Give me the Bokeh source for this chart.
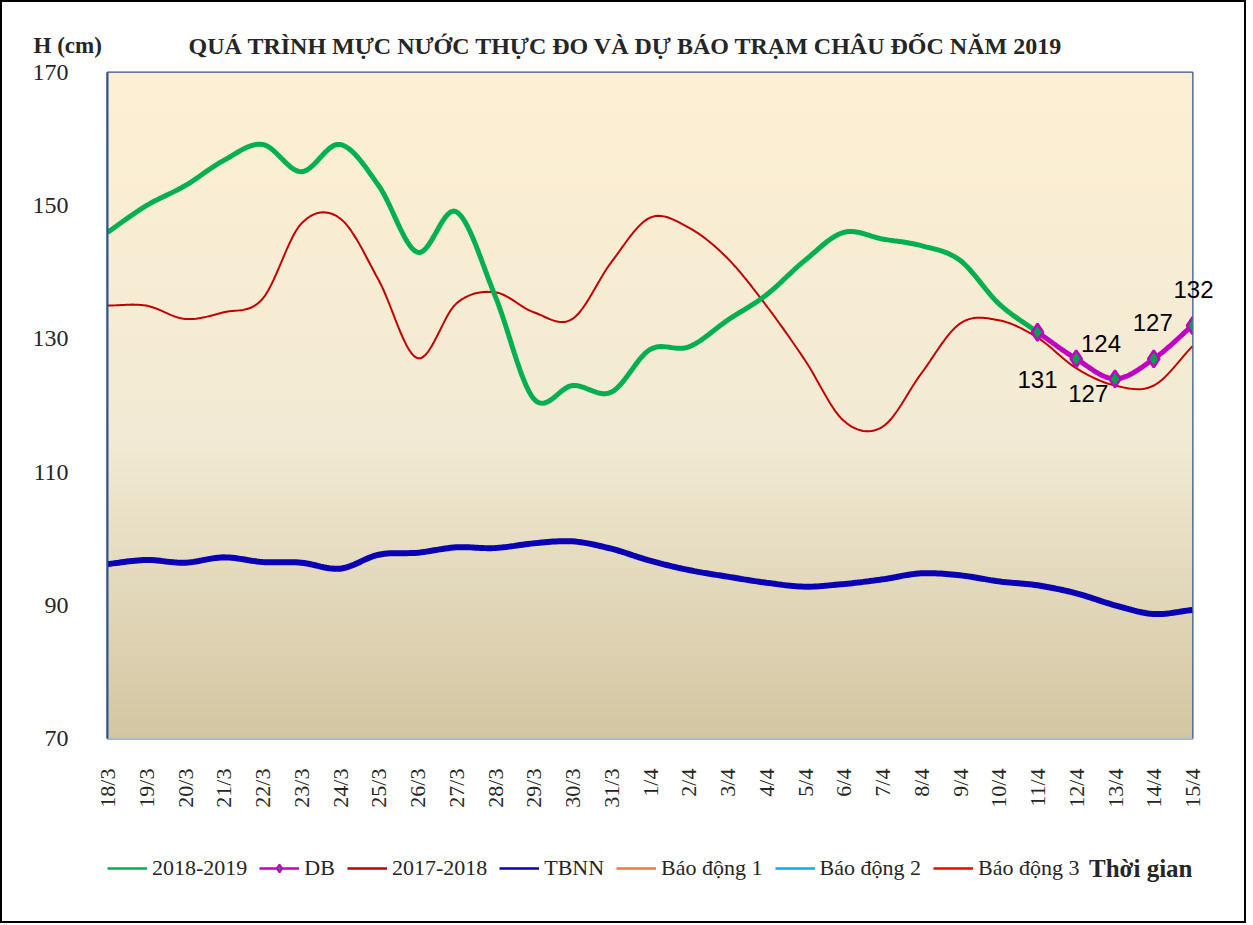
import numpy as np
from bokeh.plotting import figure
from bokeh.layouts import column
from bokeh.models import Range1d, FixedTicker, Label, Legend, LegendItem, ColumnDataSource
from bokeh.core.properties import value
from bokeh.embed import file_html
from bokeh.resources import INLINE

# ---------------- data ----------------
dates = ["18/3", "19/3", "20/3", "21/3", "22/3", "23/3", "24/3", "25/3", "26/3", "27/3",
         "28/3", "29/3", "30/3", "31/3", "1/4", "2/4", "3/4", "4/4", "5/4", "6/4",
         "7/4", "8/4", "9/4", "10/4", "11/4", "12/4", "13/4", "14/4", "15/4"]

obs_2018_2019 = [146.0, 150.0, 153.0, 156.8, 159.2, 155.1, 159.2, 153.0, 143.0, 149.1,
                 136.5, 121.0, 123.0, 122.0, 128.4, 128.8, 132.8, 136.6, 141.8, 146.0,
                 145.0, 144.0, 141.8, 135.3, 131.0]

forecast_db = [131, 127, 124, 127, 132]          # 11/4 .. 15/4
forecast_labels = ["131", "127", "124", "127", "132"]

obs_2017_2018 = [135.0, 135.0, 133.0, 134.0, 136.0, 147.3, 148.1, 138.8, 127.1, 135.3,
                 137.0, 134.0, 133.0, 141.5, 148.2, 146.7, 142.1, 135.0, 126.8, 117.7,
                 116.8, 124.8, 132.3, 132.8, 130.2, 125.6, 123.0, 123.0, 128.9]

tbnn = [96.2, 96.8, 96.4, 97.2, 96.5, 96.4, 95.5, 97.6, 97.9, 98.7,
        98.6, 99.3, 99.6, 98.5, 96.7, 95.3, 94.3, 93.4, 92.8, 93.2,
        93.9, 94.8, 94.5, 93.6, 93.0, 91.8, 90.0, 88.7, 89.3]

bao_dong_1 = 350   # alarm levels (above the visible range)
bao_dong_2 = 400
bao_dong_3 = 450

y_ticks = [70, 90, 110, 130, 150, 170]

# series styles: (legend label, colour, width)
S_1819 = ("2018-2019", "#00B050", 5)
S_DB = ("DB", "#C000C0", 5)
S_1718 = ("2017-2018", "#C00000", 2)
S_TBNN = ("TBNN", "#0A00B4", 6)
S_BD1 = ("Báo động 1", "#ED7D31", 2)
S_BD2 = ("Báo động 2", "#00B0F0", 2)
S_BD3 = ("Báo động 3", "#FF0000", 2)
DIAMOND = dict(marker="diamond", size=17, fill_color="#00A050", line_color="#C000C0", line_width=2.5)

# ---------------- helpers ----------------
def smooth(xs, ys, n=14):
    """Catmull-Rom rendering of a line through the given points (Excel-style smoothed line)."""
    xs = np.asarray(xs, float)
    ys = np.asarray(ys, float)
    if len(xs) < 3:
        return xs, ys
    P = np.column_stack([xs, ys])
    P = np.vstack([P[0] - (P[1] - P[0]), P, P[-1] + (P[-1] - P[-2])])
    out = []
    t = np.linspace(0, 1, n, endpoint=False)[:, None]
    for i in range(1, len(P) - 2):
        p0, p1, p2, p3 = P[i - 1], P[i], P[i + 1], P[i + 2]
        seg = 0.5 * ((2 * p1) + (-p0 + p2) * t + (2 * p0 - 5 * p1 + 4 * p2 - p3) * t ** 2
                     + (-p0 + 3 * p1 - 3 * p2 + p3) * t ** 3)
        out.append(seg)
    out.append(P[-2][None, :])
    arr = np.vstack(out)
    return arr[:, 0], arr[:, 1]

n = len(dates)
x_all = list(range(n))
x_obs = list(range(len(obs_2018_2019)))
x_db = list(range(n - len(forecast_db), n))

TEXT = "#262626"
W = 1242
FRAME_W = 1085

# ---------------- main chart ----------------
p = figure(frame_width=FRAME_W, frame_height=666,
           x_range=Range1d(0, n - 1), y_range=Range1d(70, 170),
           output_backend="svg", toolbar_location=None,
           min_border_left=105, min_border_right=52, min_border_top=70, min_border_bottom=75,
           border_fill_color="white")
p.xgrid.visible = False
p.ygrid.visible = False
p.outline_line_color = "#2F528F"
p.outline_line_width = 2

# background gradient of the plot area
rows = 256
tpos = np.linspace(0, 1, rows)  # 0 bottom -> 1 top
stops = [(0.0, (211, 198, 162)), (0.45, (242, 234, 212)), (1.0, (253, 239, 211))]
def interp(tv):
    for (a, ca), (b, cb) in zip(stops[:-1], stops[1:]):
        if a <= tv <= b:
            f = (tv - a) / (b - a)
            return [int(round(ca[k] + (cb[k] - ca[k]) * f)) for k in range(3)]
    return list(stops[-1][1])
img = np.zeros((rows, 1), dtype=np.uint32)
view = img.view(dtype=np.uint8).reshape((rows, 1, 4))
for i, tv in enumerate(tpos):
    r, g, b = interp(tv)
    view[i, 0, :] = [r, g, b, 255]
p.image_rgba(image=[img], x=0, y=70, dw=n - 1, dh=100, level="image")

sx, sy = smooth(x_all, tbnn)
p.line(sx, sy, line_color=S_TBNN[1], line_width=S_TBNN[2])
sx, sy = smooth(x_all, obs_2017_2018)
p.line(sx, sy, line_color=S_1718[1], line_width=S_1718[2])
sx, sy = smooth(x_obs, obs_2018_2019)
p.line(sx, sy, line_color=S_1819[1], line_width=S_1819[2])
sx, sy = smooth(x_db, forecast_db)
p.line(sx, sy, line_color=S_DB[1], line_width=S_DB[2])
p.scatter(x_db, forecast_db, **DIAMOND)
p.line(x_all, [bao_dong_1] * n, line_color=S_BD1[1], line_width=S_BD1[2])
p.line(x_all, [bao_dong_2] * n, line_color=S_BD2[1], line_width=S_BD2[2])
p.line(x_all, [bao_dong_3] * n, line_color=S_BD3[1], line_width=S_BD3[2])

# data labels of the forecast (screen offsets in px, +dy = down)
lab_dx = [0, 12, -14, -1, 1]
lab_dy = [47, 35, -35, -36, -36]
inside = [i for i in range(len(forecast_db)) if x_db[i] < n - 1]
src_lab = ColumnDataSource(dict(x=[x_db[i] for i in inside], y=[forecast_db[i] for i in inside],
                                t=[forecast_labels[i] for i in inside],
                                dx=[lab_dx[i] for i in inside], dy=[lab_dy[i] for i in inside]))
p.text(x="x", y="y", text="t", source=src_lab, x_offset="dx", y_offset="dy",
       text_font=value("Liberation Sans"), text_font_size="24px", text_color="#000000",
       text_align="center", text_baseline="middle")
for i in range(len(forecast_db)):
    if x_db[i] >= n - 1:   # label sitting on the right edge of the plot area
        p.add_layout(Label(x=x_db[i], y=forecast_db[i], text=forecast_labels[i],
                           x_offset=lab_dx[i], y_offset=-lab_dy[i],
                           text_font="Liberation Sans", text_font_size="24px", text_color="#000000",
                           text_align="center", text_baseline="middle"), "right")

# axes
p.xaxis.ticker = FixedTicker(ticks=x_all)
p.xaxis.major_label_overrides = {i: d for i, d in enumerate(dates)}
p.xaxis.major_label_orientation = np.pi / 2
p.xaxis.major_label_standoff = 30
p.xaxis.major_label_text_font = "Liberation Serif"
p.xaxis.major_label_text_font_size = "22px"
p.xaxis.major_label_text_color = TEXT
p.xaxis.major_tick_out = 0
p.xaxis.major_tick_in = 0
p.xaxis.minor_tick_line_color = None
p.xaxis.axis_line_color = "#B4BCC8"
p.xaxis.axis_line_width = 2

p.yaxis.ticker = FixedTicker(ticks=y_ticks)
p.yaxis.major_label_standoff = 39
p.yaxis.major_label_text_font = "Liberation Serif"
p.yaxis.major_label_text_font_size = "24px"
p.yaxis.major_label_text_color = TEXT
p.yaxis.major_tick_out = 0
p.yaxis.major_tick_in = 0
p.yaxis.minor_tick_line_color = None
p.yaxis.axis_line_color = "#2F528F"
p.yaxis.axis_line_width = 2

p.add_layout(Label(x=13.45, y=174.05, text="QUÁ TRÌNH MỰC NƯỚC THỰC ĐO VÀ DỰ BÁO TRẠM CHÂU ĐỐC NĂM  2019",
                   text_font="Liberation Serif", text_font_style="bold", text_font_size="24px",
                   text_color=TEXT, text_align="center", text_baseline="middle"), "above")
p.add_layout(Label(x=-1.91, y=174.05, text="H (cm)",
                   text_font="Liberation Serif", text_font_style="bold", text_font_size="23px",
                   text_color=TEXT, text_align="left", text_baseline="middle"), "above")

# ---------------- legend strip (its frame lines up with the chart's frame; pixel coordinates) ----------------
H2 = 108
q = figure(width=W, height=H2, x_range=Range1d(0, FRAME_W), y_range=Range1d(0, H2),
           output_backend="svg", toolbar_location=None,
           x_axis_location=None, y_axis_location=None,
           min_border=0, border_fill_color="white", background_fill_color="white")
q.xgrid.visible = False
q.ygrid.visible = False
q.outline_line_color = None
# the series are drawn again on a range far away, so only their legend samples show
q.extra_y_ranges = {"off": Range1d(10000, 20000)}

proxies = [
    (S_1819, (x_obs, obs_2018_2019)),
    (S_DB, (x_db, forecast_db)),
    (S_1718, (x_all, obs_2017_2018)),
    (S_TBNN, (x_all, tbnn)),
    (S_BD1, (x_all, [bao_dong_1] * n)),
    (S_BD2, (x_all, [bao_dong_2] * n)),
    (S_BD3, (x_all, [bao_dong_3] * n)),
]
items = []
for (lab, col, wdt), (xs, ys) in proxies:
    rs = [q.line(xs, ys, line_color=col, line_width=2.5, y_range_name="off")]
    if lab == S_DB[0]:
        rs.append(q.scatter(xs, ys, y_range_name="off", **dict(DIAMOND, size=12, line_width=2)))
    items.append(LegendItem(label=lab, renderers=rs))

legend = Legend(items=items, orientation="horizontal", location=(0, 40))
legend.label_text_font = "Liberation Serif"
legend.label_text_font_size = "22px"
legend.label_text_color = TEXT
legend.glyph_width = 40
legend.label_standoff = 5
legend.spacing = 12
legend.padding = 0
legend.margin = 0
legend.border_line_color = None
legend.background_fill_alpha = 0
q.add_layout(legend)

q.add_layout(Label(x=FRAME_W, y=53, text="Thời gian",
                   text_font="Liberation Serif", text_font_style="bold", text_font_size="25px",
                   text_color=TEXT, text_align="right", text_baseline="middle"))

layout = column(p, q, spacing=0, styles={"border": "2px solid black"})

open("out.html", "w").write(file_html(layout, INLINE))
